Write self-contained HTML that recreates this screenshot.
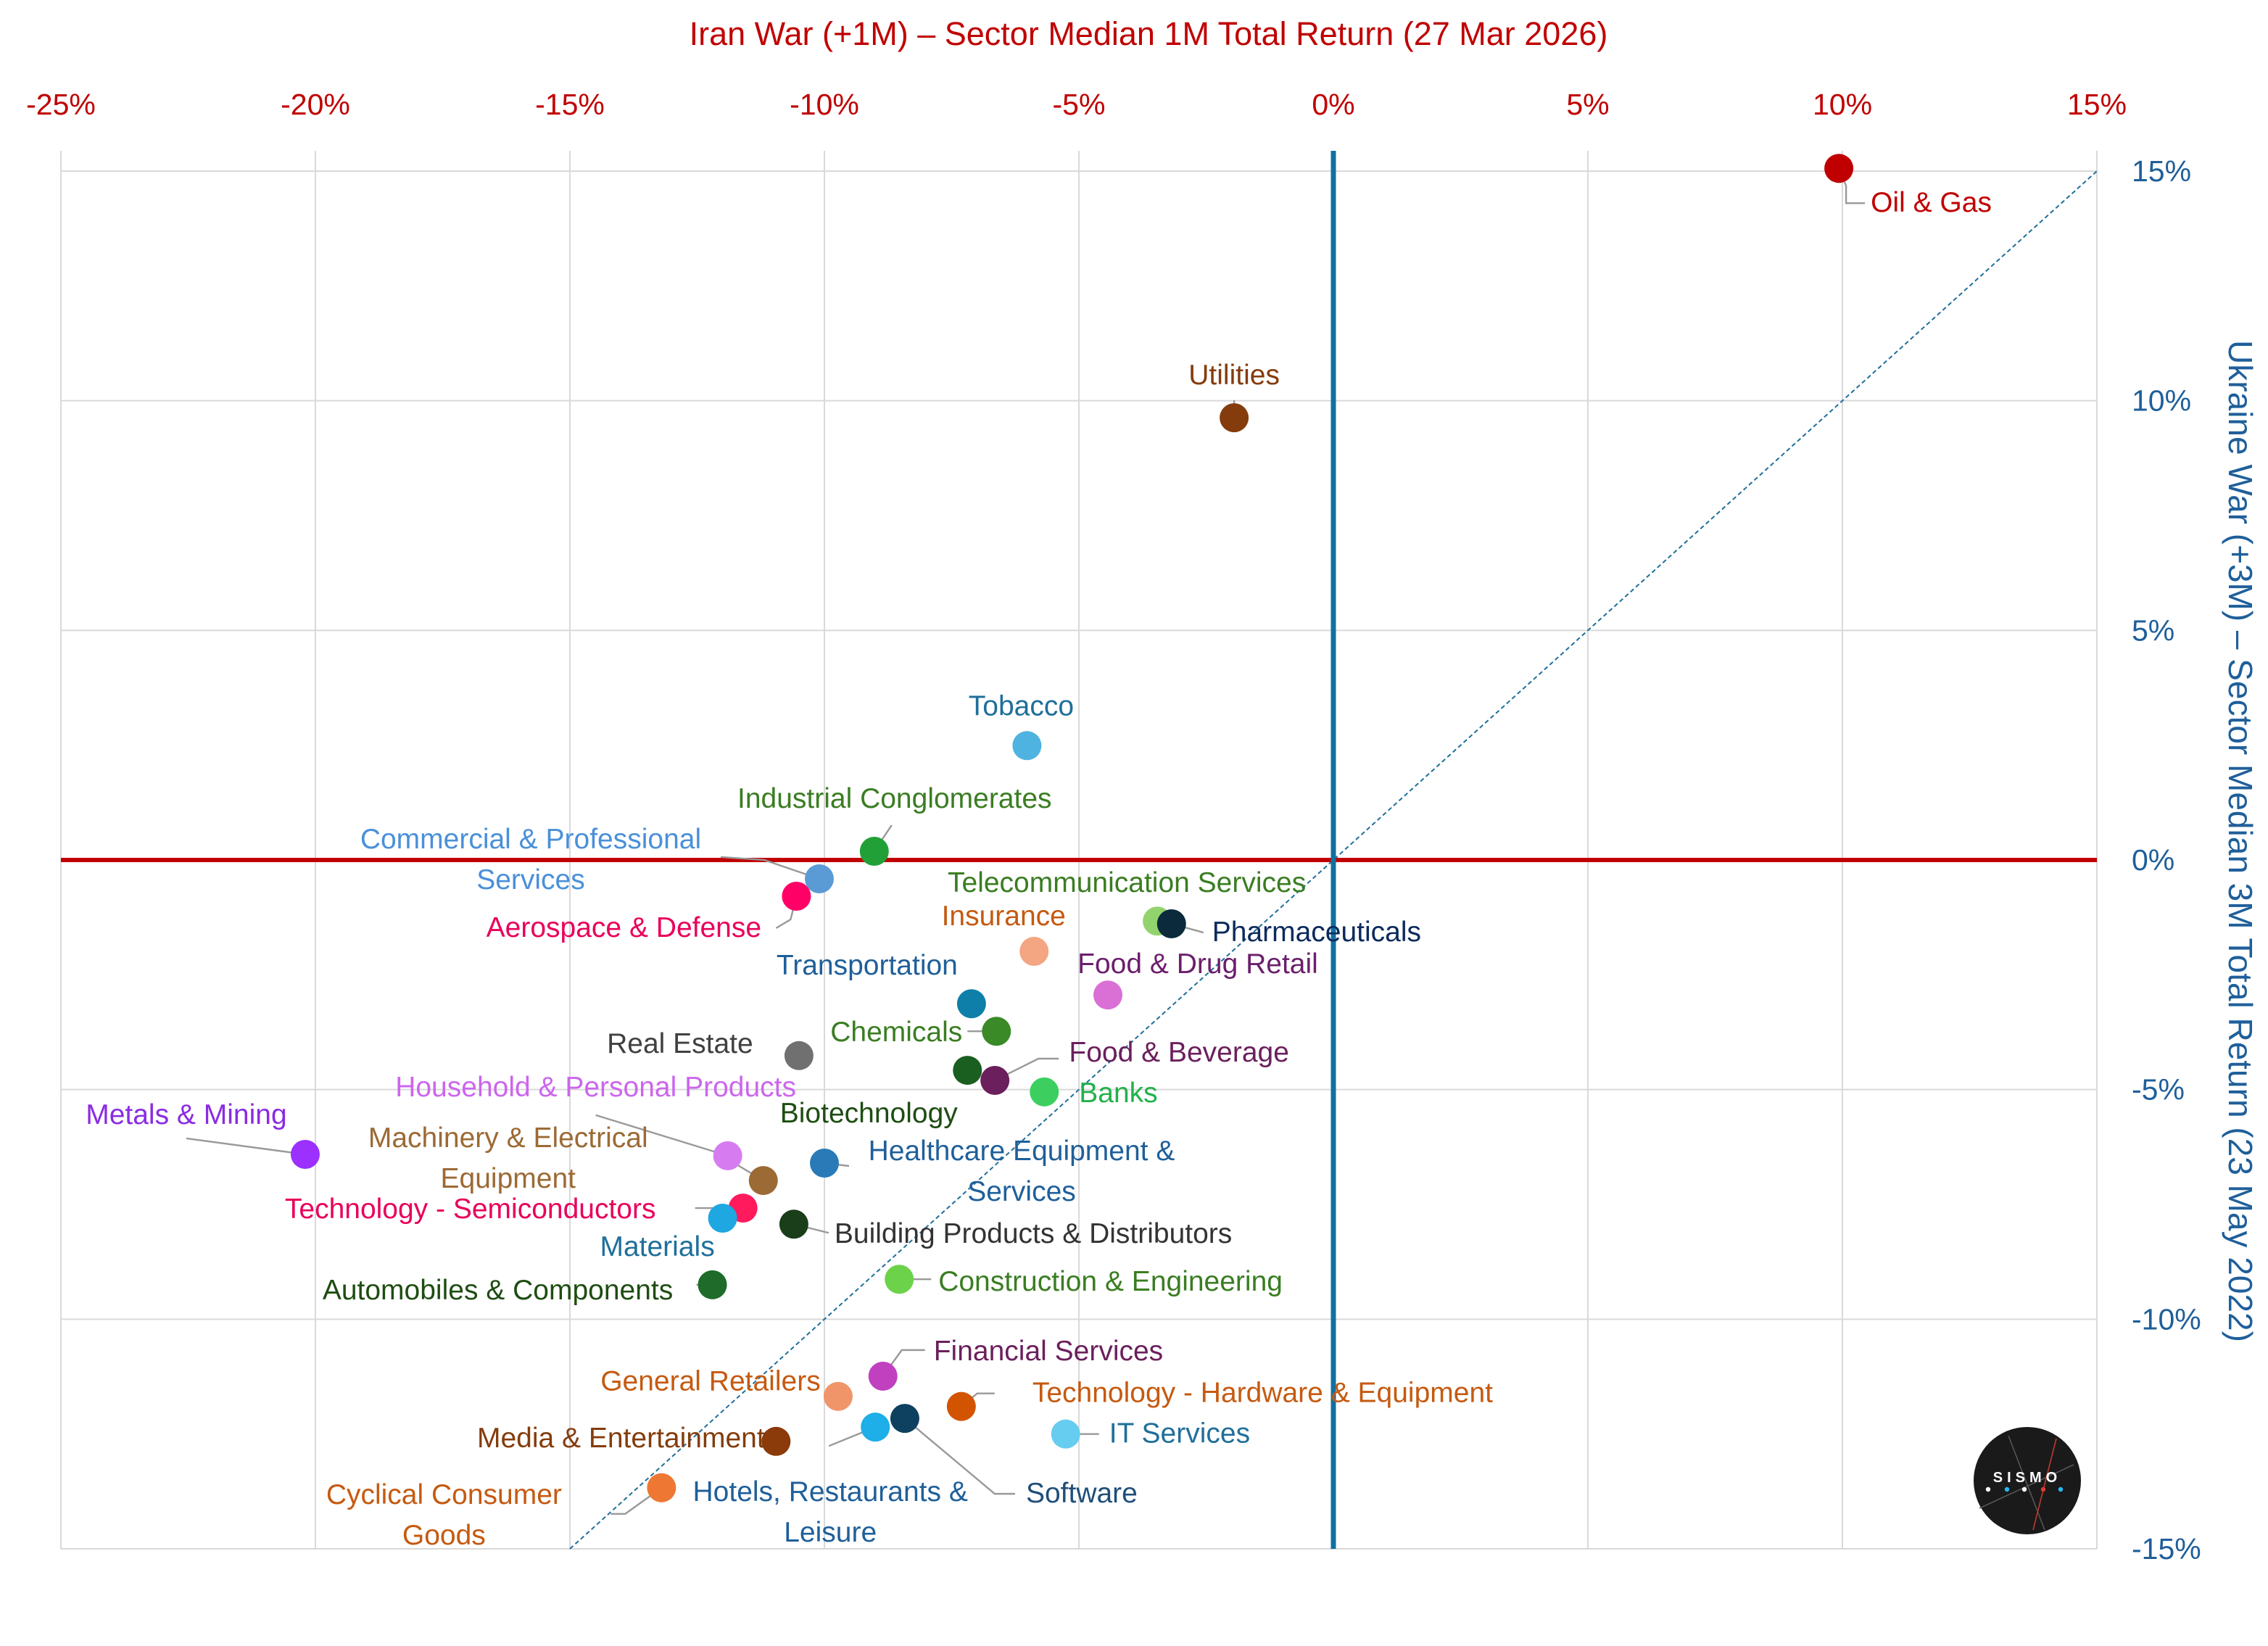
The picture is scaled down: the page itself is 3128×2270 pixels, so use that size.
<!DOCTYPE html>
<html><head><meta charset="utf-8"><style>
html,body{margin:0;padding:0;background:#fff;}
svg{display:block;font-family:"Liberation Sans",sans-serif;}
</style></head><body>
<svg id="chart" width="3128" height="2270" viewBox="0 0 1564 1135" xmlns="http://www.w3.org/2000/svg">
<g id="grid"></g>
<g id="axes"></g>
<g id="leaders"></g>
<g id="points"></g>
<g id="labels"></g>
<text x="792" y="31" text-anchor="middle" font-size="22.5" fill="#c00000">Iran War (+1M) – Sector Median 1M Total Return (27 Mar 2026)</text>
<text transform="translate(1537,580) rotate(90)" text-anchor="middle" font-size="23" fill="#1f5f9a">Ukraine War (+3M) – Sector Median 3M Total Return (23 May 2022)</text>
<g>
<circle cx="1398" cy="1021" r="37" fill="#1a1a1a"/>
<line x1="1365" y1="1040" x2="1430" y2="1010" stroke="#555" stroke-width="0.8"/>
<line x1="1385" y1="990" x2="1410" y2="1055" stroke="#555" stroke-width="0.8"/>
<line x1="1402" y1="1055" x2="1418" y2="992" stroke="#c0392b" stroke-width="0.8"/>
<text x="1398" y="1022" text-anchor="middle" font-size="10" font-weight="bold" fill="#fff" letter-spacing="3">SISMO</text>
<circle cx="1371" cy="1027" r="1.6" fill="#fff"/><circle cx="1384" cy="1027" r="1.6" fill="#29b6f6"/><circle cx="1396" cy="1027" r="1.6" fill="#fff"/><circle cx="1409" cy="1027" r="1.6" fill="#e53935"/><circle cx="1421" cy="1027" r="1.6" fill="#29b6f6"/>
</g>
</svg>
<script>
const xTicks = [-25,-20,-15,-10,-5,0,5,10,15];
const yTicks = [15,10,5,0,-5,-10,-15];
const sectors = ["Oil & Gas","Utilities","Tobacco","Industrial Conglomerates","Commercial & Professional Services","Aerospace & Defense","Telecommunication Services","Pharmaceuticals","Insurance","Food & Drug Retail","Transportation","Chemicals","Real Estate","Biotechnology","Food & Beverage","Banks","Metals & Mining","Household & Personal Products","Healthcare Equipment & Services","Machinery & Electrical Equipment","Technology - Semiconductors","Materials","Building Products & Distributors","Construction & Engineering","Automobiles & Components","Financial Services","Technology - Hardware & Equipment","General Retailers","Software","Hotels, Restaurants & Leisure","IT Services","Media & Entertainment","Cyclical Consumer Goods"];
const iranReturns = [9.93,-1.95,-6.02,-9.02,-10.1,-10.55,-3.46,-3.18,-5.88,-4.43,-7.11,-6.62,-10.5,-7.19,-6.65,-5.68,-20.2,-11.9,-10.0,-11.2,-11.6,-12.0,-10.6,-8.53,-12.2,-8.85,-7.31,-9.73,-8.42,-9.0,-5.26,-10.95,-13.2];
const ukraineReturns = [15.06,9.63,2.49,0.19,-0.41,-0.79,-1.33,-1.39,-1.99,-2.94,-3.13,-3.73,-4.26,-4.58,-4.80,-5.05,-6.41,-6.44,-6.6,-6.98,-7.58,-7.8,-7.93,-9.13,-9.25,-11.24,-11.9,-11.68,-12.16,-12.35,-12.5,-12.66,-13.67];

// styling / layout (not data)
const style = [
 ["#c00000","#c00000","start",22,24,["Oil & Gas"],[[0,0],[5,12],[5,24],[18,24]]],
 ["#843c0c","#843c0c","middle",0,-29,["Utilities"],[[0,0],[0,-12]]],
 ["#4eb3e0","#1f6f9a","middle",-4,-27,["Tobacco"],[[0,0],[0,-8]]],
 ["#22a038","#3a7d22","middle",14,-36,["Industrial Conglomerates"],[[0,0],[12,-18]]],
 ["#5b9bd5","#4a90d9","middle",-199,-27,["Commercial & Professional","Services"],[[0,0],[-38,-13],[-68,-15]]],
 ["#ff0066","#e8005a","middle",-119,22,["Aerospace & Defense"],[[0,0],[-4,16],[-14,22]]],
 ["#92d36e","#3a7d22","middle",-21,-26,["Telecommunication Services"],[]],
 ["#0b2a3c","#0b2a5c","start",28,6,["Pharmaceuticals"],[[0,0],[22,6]]],
 ["#f4a582","#c55a11","middle",-21,-24,["Insurance"],[]],
 ["#da70d6","#6b1f6b","middle",62,-21,["Food & Drug Retail"],[]],
 ["#0e7fa8","#1f5f9a","middle",-72,-26,["Transportation"],[]],
 ["#3a8a27","#3a7d22","middle",-69,1,["Chemicals"],[[0,0],[-20,0]]],
 ["#707070","#404040","middle",-82,-8,["Real Estate"],[]],
 ["#1a5e20","#1e4d12","middle",-68,30,["Biotechnology"],[]],
 ["#6b1f5c","#6b1f5c","middle",127,-19,["Food & Beverage"],[[0,0],[30,-15],[44,-15]]],
 ["#3ccf60","#22b14c","start",24,1,["Banks"],[]],
 ["#9b30ff","#8b2be2","middle",-82,-27,["Metals & Mining"],[[0,0],[-82,-11]]],
 ["#d77cf0","#cc66ee","middle",-91,-47,["Household & Personal Products"],[[0,0],[-91,-28]]],
 ["#2a7ab8","#1f5f9a","middle",136,-8,["Healthcare Equipment &","Services"],[[0,0],[17,2]]],
 ["#9c6a35","#9c6a35","middle",-176,-29,["Machinery & Electrical","Equipment"],[[0,0],[-20,-12]]],
 ["#ff1a5e","#e8005a","middle",-188,1,["Technology - Semiconductors"],[[0,0],[-33,0]]],
 ["#1ea7e0","#1f6f9a","middle",-45,20,["Materials"],[]],
 ["#1a3d1a","#333333","start",28,7,["Building Products & Distributors"],[[0,0],[24,6]]],
 ["#6cd24a","#3a7d22","start",27,2,["Construction & Engineering"],[[0,0],[22,0]]],
 ["#1e6b2a","#1e4d12","middle",-148,4,["Automobiles & Components"],[[0,0],[-11,0]]],
 ["#c040c0","#6b1f5c","start",35,-17,["Financial Services"],[[0,0],[13,-18],[29,-18]]],
 ["#d35400","#c55a11","start",49,-9,["Technology - Hardware & Equipment"],[[0,0],[11,-9],[23,-9]]],
 ["#f0956a","#c55a11","middle",-88,-10,["General Retailers"],[]],
 ["#0e4060","#1f4e79","middle",122,52,["Software"],[[0,0],[62,52],[76,52]]],
 ["#1eaee8","#1f5f9a","middle",-31,45,["Hotels, Restaurants &","Leisure"],[[0,0],[-32,13]]],
 ["#66ccf0","#1f6f9a","start",30,0,["IT Services"],[[0,0],[23,0]]],
 ["#8b3a0a","#843c0c","middle",-107,-2,["Media & Entertainment"],[]],
 ["#ee7733","#c55a11","middle",-150,5,["Cyclical Consumer","Goods"],[[0,0],[-25,18],[-35,18]]]
];
const NS="http://www.w3.org/2000/svg";
const X0=42,X1=1446,Y0=118,Y1=1068;
const sx=v=>X0+(v+25)/40*(X1-X0);
const sy=v=>Y1-(v+15)/30*(Y1-Y0);
function mk(tag,attrs,parent,txt){const e=document.createElementNS(NS,tag);for(const k in attrs)e.setAttribute(k,attrs[k]);if(txt!==undefined)e.textContent=txt;parent.appendChild(e);return e;}
const grid=document.getElementById('grid'),axes=document.getElementById('axes');
xTicks.forEach(t=>{
 const l=mk('line',{x1:sx(t),x2:sx(t),y1:104,y2:Y1,stroke:'#d9d9d9','stroke-width':1},grid);
 
 
 const tx=mk('text',{x:sx(t),y:79,'text-anchor':'middle','font-size':20.5,fill:'#c00000'},axes,t+'%');
 
 
});
yTicks.forEach(t=>{
 const l=mk('line',{x1:X0,x2:X1,y1:sy(t),y2:sy(t),stroke:'#d9d9d9','stroke-width':1},grid);
 
 
 const tx=mk('text',{x:1470,y:sy(t)+7,'text-anchor':'start','font-size':20.5,fill:'#1f5f9a'},axes,t+'%');
 
 
});
const diag=mk('line',{x1:sx(-15),y1:sy(-15),x2:sx(15),y2:sy(15),stroke:'#1f6f9a','stroke-width':1,'stroke-dasharray':'3,2'},axes);


const zx=mk('line',{x1:X0,x2:X1,y1:sy(0),y2:sy(0),stroke:'#c00000','stroke-width':3},axes);


const zy=mk('line',{x1:sx(0),x2:sx(0),y1:104,y2:Y1,stroke:'#1170a0','stroke-width':3.5},axes);


const P=document.getElementById('points'),L=document.getElementById('labels'),LD=document.getElementById('leaders');
sectors.forEach((s,i)=>{
 const [col,tcol,anc,dx,dy,lines,lead]=style[i];
 const px=sx(iranReturns[i]),py=sy(ukraineReturns[i]);
 if(lead.length){
  const pl=mk('polyline',{points:lead.map(p=>(px+p[0])+','+(py+p[1])).join(' '),fill:'none',stroke:'#999','stroke-width':1.2},LD);
  
  
 }
 const c=mk('circle',{cx:px,cy:py,r:10,fill:col},P);
 
 
 const t=mk('text',{x:px+dx,y:py+dy+6,'text-anchor':anc,'font-size':19.5,fill:tcol},L);
 
 
 lines.forEach((ln,j)=>{mk('tspan',{x:px+dx,dy:j?28:0},t,ln);});
});
</script>
</body></html>
